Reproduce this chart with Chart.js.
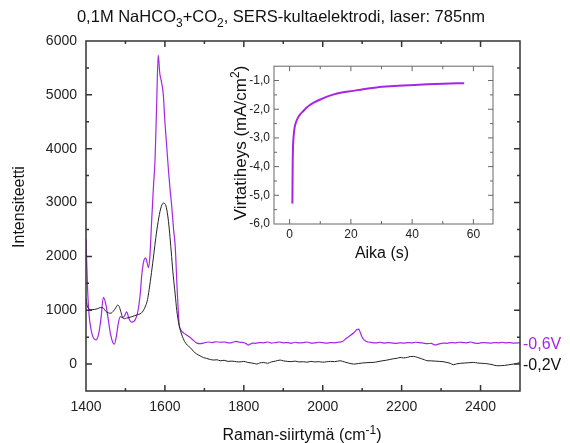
<!DOCTYPE html>
<html>
<head>
<meta charset="utf-8">
<script src="https://cdn.jsdelivr.net/npm/chart.js@4.4.1/dist/chart.umd.min.js"></script>
<style>
body { margin: 0; background: #fff; }
#wrap { position: relative; width: 570px; height: 443px; }
#main { position: absolute; left: 0; top: 0; }
#inset { position: absolute; left: 225px; top: 55px; }
</style>
</head>
<body>
<div id="wrap">
  <canvas id="main" width="570" height="443"></canvas>
  <canvas id="inset" width="290" height="215"></canvas>
</div>
<script>
var FONT = "'Liberation Sans', Arial, sans-serif";
var PURPLE = "#a526e6";

// Raman spectrum, -0,6V
var purpleX = [1400,1404,1408,1414,1420,1426,1432,1438,1444,1450,
  1456,1462,1468,1472,1477,1482,1487,1493,1498,1503,
  1509,1515,1521,1527,1532,1537,1542,1547,1551,1555,
  1558,1562,1566,1571,1575,1579,1583,1587,1591,1596,
  1600,1605,1609,1613,1617,1622,1626,1631,1636,1640,
  1647,1655,1664,1672,1681,1690,1700,1710,1720,1730,
  1740,1750,1760,1770,1780,1790,1800,1806,1811,1816,
  1822,1830,1840,1850,1860,1870,1880,1890,1900,1910,
  1920,1930,1940,1950,1960,1970,1980,1990,2000,2010,
  2020,2030,2040,2050,2060,2070,2080,2087,2091,2095,
  2100,2106,2115,2125,2135,2145,2155,2165,2175,2185,
  2195,2205,2215,2225,2235,2245,2255,2265,2275,2285,
  2295,2305,2315,2325,2335,2345,2355,2365,2375,2385,
  2395,2405,2415,2425,2435,2445,2455,2465,2475,2485,
  2500];
var purpleY = [2320,1400,900,600,470,450,560,850,1240,1120,
  850,560,400,370,520,760,880,860,900,970,
  840,780,790,860,1000,1270,1700,1930,1975,1880,
  1790,2000,2600,3300,3800,4800,5740,5400,5250,5000,
  4500,4000,3600,3250,2950,2500,2200,1400,750,640,
  580,540,494,440,389,380,395,410,400,415,
  405,410,395,400,420,405,400,380,352,370,
  390,385,400,395,410,390,400,410,395,400,
  385,405,395,400,410,390,395,405,400,390,
  400,395,405,420,480,530,590,640,650,590,
  500,440,410,400,395,405,390,400,395,385,
  395,390,400,395,405,400,390,380,385,355,
  375,390,385,400,395,405,400,395,410,390,
  385,400,395,390,400,395,405,395,400,390,
  395];

// Raman spectrum, -0,2V
var blackX = [1400,1403,1408,1415,1422,1430,1437,1444,1450,1457,
  1463,1469,1475,1480,1484,1488,1492,1497,1503,1509,
  1516,1522,1528,1534,1540,1545,1551,1556,1560,1566,
  1572,1577,1583,1589,1596,1600,1605,1609,1613,1617,
  1621,1626,1630,1636,1643,1650,1657,1664,1672,1680,
  1689,1698,1706,1715,1724,1732,1740,1750,1760,1770,
  1782,1790,1800,1810,1820,1828,1833,1840,1850,1860,
  1870,1880,1892,1900,1910,1920,1930,1940,1951,1960,
  1970,1980,1990,2000,2010,2020,2030,2044,2055,2065,
  2078,2090,2100,2110,2120,2128,2140,2150,2160,2170,
  2180,2190,2196,2205,2215,2222,2230,2240,2250,2258,
  2264,2275,2285,2295,2305,2315,2323,2331,2340,2350,
  2360,2370,2382,2392,2402,2412,2422,2432,2441,2450,
  2460,2470,2483,2492,2500];
var blackY = [1220,1080,1020,1010,1015,1030,1050,1040,980,950,
  945,980,1040,1095,1070,980,880,840,855,865,
  880,895,910,926,945,990,1080,1200,1380,1700,
  2050,2350,2650,2880,2990,2980,2860,2650,2350,2000,
  1650,1300,1000,720,540,420,350,309,240,190,
  154,120,105,85,75,80,62,70,50,55,
  43,40,50,30,20,10,0,20,30,15,
  40,55,74,60,50,45,55,40,43,35,
  50,40,45,35,43,50,45,62,40,20,
  0,10,20,25,30,31,45,60,70,85,
  100,110,123,115,125,140,142,125,100,80,
  62,60,55,50,45,30,15,-12,5,15,
  20,25,31,20,15,10,0,-15,-31,-30,
  -25,-15,0,10,40];

var xTicks = [1400, 1600, 1800, 2000, 2200, 2400];
var yTicks = [0, 1000, 2000, 3000, 4000, 5000, 6000];

// inset: current density vs time
var timeS = [0.9, 0.95, 1.0, 1.1, 1.3, 1.6, 2.0, 2.7, 3.5, 4.4, 5.5, 6.5, 8, 9.8, 12, 14.2, 17, 20.7, 24, 28.4, 33, 39.3, 45, 50.2, 57];
var currentJ = [-5.29, -4.6, -3.9, -3.33, -2.95, -2.66, -2.48, -2.30, -2.17, -2.07, -1.95, -1.86, -1.76, -1.67, -1.57, -1.49, -1.42, -1.36, -1.30, -1.24, -1.20, -1.16, -1.13, -1.11, -1.09];
var insetXTicks = [0, 20, 40, 60];
var insetYTicks = [-6, -5, -4, -3, -2, -1];

function pts(xs, ys) {
  return xs.map(function (x, i) { return { x: x, y: ys[i] }; });
}

// draws text pieces with sub/superscripts, centred on x
function richText(ctx, parts, x, y, size) {
  var small = Math.round(size * 0.72);
  var w = 0;
  parts.forEach(function (p) {
    ctx.font = (p.sub || p.sup ? small : size) + "px " + FONT;
    p.w = ctx.measureText(p.t).width;
    w += p.w;
  });
  var cx = x - w / 2;
  ctx.textAlign = "left";
  ctx.textBaseline = "alphabetic";
  parts.forEach(function (p) {
    ctx.font = (p.sub || p.sup ? small : size) + "px " + FONT;
    var dy = p.sub ? size * 0.3 : (p.sup ? -size * 0.4 : 0);
    ctx.fillText(p.t, cx, y + dy);
    cx += p.w;
  });
}

// box round the plot with inward ticks on all four sides
var framePlugin = {
  id: "frame",
  afterDatasetsDraw: function (chart, args, f) {
    var ctx = chart.ctx, a = chart.chartArea;
    var sx = chart.scales.x, sy = chart.scales.y;
    ctx.save();
    ctx.strokeStyle = f.color;
    ctx.lineWidth = f.width;
    ctx.strokeRect(a.left, a.top, a.right - a.left, a.bottom - a.top);
    ctx.beginPath();
    function xt(v, len) {
      var p = sx.getPixelForValue(v);
      ctx.moveTo(p, a.bottom); ctx.lineTo(p, a.bottom - len);
      ctx.moveTo(p, a.top); ctx.lineTo(p, a.top + len);
    }
    function yt(v, len) {
      var p = sy.getPixelForValue(v);
      ctx.moveTo(a.left, p); ctx.lineTo(a.left + len, p);
      ctx.moveTo(a.right, p); ctx.lineTo(a.right - len, p);
    }
    for (var v = f.x0; v < sx.max; v += f.xStep) {
      if (v > sx.min) xt(v, f.major);
      if (v + f.xStep / 2 < sx.max && v + f.xStep / 2 > sx.min) xt(v + f.xStep / 2, f.minor);
    }
    for (var u = f.y0; u < sy.max; u += f.yStep) {
      if (u > sy.min) yt(u, f.major);
      if (u + f.yStep / 2 < sy.max && u + f.yStep / 2 > sy.min) yt(u + f.yStep / 2, f.minor);
    }
    ctx.stroke();
    ctx.restore();
  }
};

var mainText = {
  id: "mainText",
  afterDraw: function (chart) {
    var ctx = chart.ctx;
    ctx.save();
    ctx.fillStyle = "#111";
    richText(ctx, [
      { t: "0,1M NaHCO" }, { t: "3", sub: true }, { t: "+CO" }, { t: "2", sub: true },
      { t: ", SERS-kultaelektrodi, laser: 785nm" }
    ], 281, 22, 16.5);
    richText(ctx, [{ t: "Raman-siirtymä (cm" }, { t: "-1", sup: true }, { t: ")" }], 302, 440, 16);
    ctx.translate(24, 207);
    ctx.rotate(-Math.PI / 2);
    richText(ctx, [{ t: "Intensiteetti" }], 0, 0, 16);
    ctx.restore();
    ctx.save();
    ctx.font = "16px " + FONT;
    ctx.textAlign = "left";
    ctx.textBaseline = "middle";
    ctx.fillStyle = PURPLE;
    ctx.fillText("-0,6V", 523, 345);
    ctx.fillStyle = "#111";
    ctx.fillText("-0,2V", 523, 366);
    ctx.restore();
  }
};

var insetText = {
  id: "insetText",
  afterDraw: function (chart) {
    var ctx = chart.ctx;
    ctx.save();
    ctx.fillStyle = "#111";
    richText(ctx, [{ t: "Aika (s)" }], 157, 203, 16);
    ctx.translate(21, 88);
    ctx.rotate(-Math.PI / 2);
    richText(ctx, [{ t: "Virtatiheys (mA/cm" }, { t: "2", sup: true }, { t: ")" }], 0, 0, 17);
    ctx.restore();
  }
};

function plain(v) { return String(v); }

new Chart("main", {
  type: "scatter",
  data: {
    datasets: [{
      data: pts(blackX, blackY),
      showLine: true,
      borderColor: "#222",
      borderWidth: 1,
      pointRadius: 0,
      cubicInterpolationMode: "monotone"
    }, {
      data: pts(purpleX, purpleY),
      showLine: true,
      borderColor: PURPLE,
      borderWidth: 1.2,
      pointRadius: 0,
      cubicInterpolationMode: "monotone"
    }]
  },
  options: {
    responsive: false,
    animation: false,
    layout: { padding: { top: 41, right: 50, left: 0, bottom: 0 } },
    plugins: {
      legend: { display: false },
      tooltip: { enabled: false },
      frame: { color: "#333", width: 1.5, major: 6, minor: 3, x0: 1400, xStep: 200, y0: 0, yStep: 1000 }
    },
    scales: {
      x: {
        type: "linear", min: 1400, max: 2500,
        grid: { display: false, drawTicks: false },
        border: { display: false },
        afterBuildTicks: function (s) { s.ticks = xTicks.map(function (v) { return { value: v }; }); },
        afterFit: function (s) { s.height = 52; },
        ticks: { padding: 8, color: "#222", font: { family: FONT, size: 14 }, maxRotation: 0, autoSkip: false, callback: plain }
      },
      y: {
        type: "linear", min: -500, max: 6000,
        grid: { display: false, drawTicks: false },
        border: { display: false },
        afterBuildTicks: function (s) { s.ticks = yTicks.map(function (v) { return { value: v }; }); },
        afterFit: function (s) { s.width = 86; },
        ticks: { padding: 9, color: "#222", font: { family: FONT, size: 14 }, callback: plain }
      }
    }
  },
  plugins: [framePlugin, mainText]
});

new Chart("inset", {
  type: "scatter",
  data: {
    datasets: [{
      data: pts(timeS, currentJ),
      showLine: true,
      borderColor: PURPLE,
      borderWidth: 2,
      pointRadius: 0,
      cubicInterpolationMode: "monotone"
    }]
  },
  options: {
    responsive: false,
    animation: false,
    layout: { padding: { top: 9, right: 22, left: 0, bottom: 0 } },
    plugins: {
      legend: { display: false },
      tooltip: { enabled: false },
      frame: { color: "#666", width: 1, major: 5, minor: 3, x0: 0, xStep: 20, y0: -6, yStep: 1 }
    },
    scales: {
      x: {
        type: "linear", min: -5.1, max: 66.4,
        grid: { display: false, drawTicks: false },
        border: { display: false },
        afterBuildTicks: function (s) { s.ticks = insetXTicks.map(function (v) { return { value: v }; }); },
        afterFit: function (s) { s.height = 46; },
        ticks: { padding: 3, color: "#222", font: { family: FONT, size: 12 }, maxRotation: 0, autoSkip: false, callback: plain }
      },
      y: {
        type: "linear", min: -6, max: -0.5,
        grid: { display: false, drawTicks: false },
        border: { display: false },
        afterBuildTicks: function (s) { s.ticks = insetYTicks.map(function (v) { return { value: v }; }); },
        afterFit: function (s) { s.width = 49; },
        ticks: {
          padding: 4, color: "#222", font: { family: FONT, size: 12 },
          callback: function (v) { return v.toFixed(1).replace(".", ","); }
        }
      }
    }
  },
  plugins: [framePlugin, insetText]
});
</script>
</body>
</html>
